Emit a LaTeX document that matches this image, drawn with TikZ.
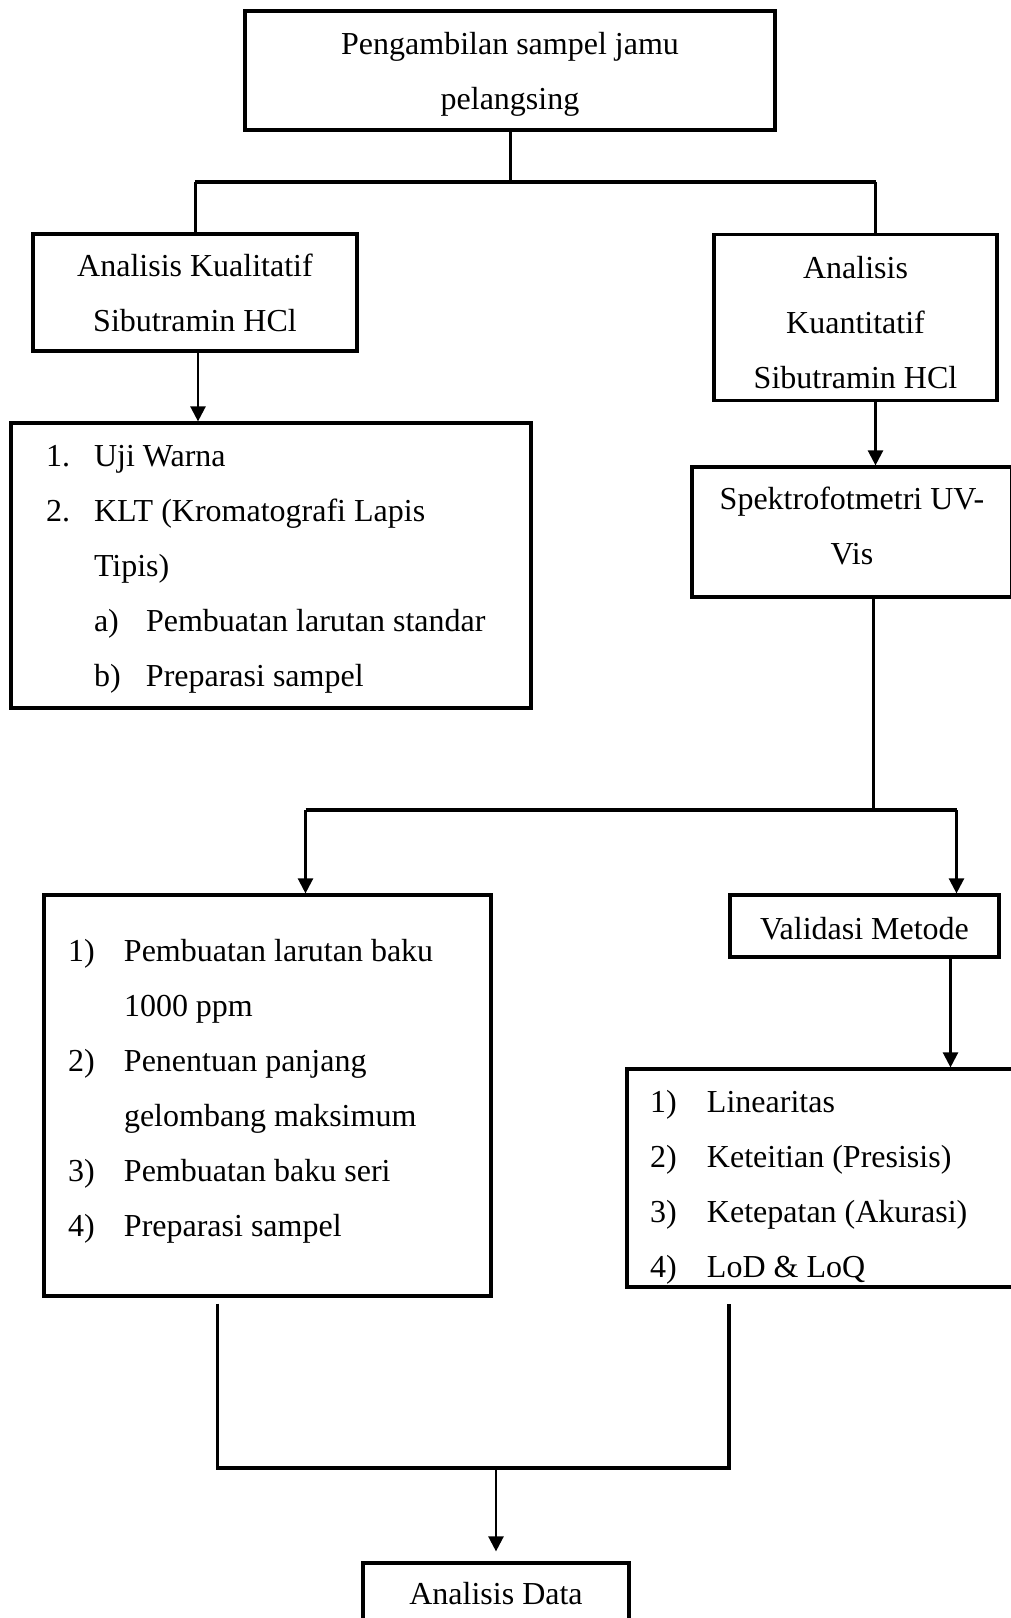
\documentclass[tikz,border=0pt]{standalone}
\usepackage{fontspec}
\setmainfont{Liberation Serif}
\usepackage{tikz}
\usetikzlibrary{positioning,arrows.meta}
\setlength{\parindent}{0pt}
\newcommand{\padtop}[2]{\raisebox{0pt}[\dimexpr\height+#1\relax]{#2}}
\newcommand{\padbot}[2]{\raisebox{0pt}[\height][\dimexpr\depth+#1\relax]{#2}}

\begin{document}
\begin{tikzpicture}[x=1pt, y=-1pt, >={Triangle[length=15pt,width=15pt]},
  box/.style={draw, line width=3.2pt, inner sep=0pt, align=center,
    font=\fontsize{32}{55}\selectfont},
  listbox/.style={box, align=left,
    execute at begin node={\spaceskip=0pt\xspaceskip=0pt}},
  link/.style={line width=3pt},
  bus/.style={line width=3.6pt},
  arrow/.style={->, line width=2.4pt}]
  \useasboundingbox (0,0) rectangle (1011,1618);
  \fill[white] (0,0) rectangle (1011,1618);
  \clip (0,0) rectangle (1011,1618);
  % boxes
  \node[box, minimum width=530, minimum height=119] (top) at (510,70.5)
    {\padtop{8pt}{Pengambilan} sampel jamu\\pelangsing};
  \node[box, minimum width=324, minimum height=117] (kual) at (195,292.5)
    {Analisis Kualitatif\\Sibutramin HCl};
  \node[box, minimum width=283, minimum height=166] (kuan) at (855.5,317.5)
    {\padtop{10pt}{Analisis}\\Kuantitatif\\Sibutramin HCl};
  \node[listbox, text width=450, minimum width=520, minimum height=285] (klt) at (271,565.5)
    {\makebox[48pt][l]{\padtop{8pt}{1.}}Uji Warna\\
     \makebox[48pt][l]{2.}KLT (Kromatografi Lapis\\
     \hspace*{48pt}Tipis)\\
     \hspace*{48pt}\makebox[52pt][l]{a)}Pembuatan larutan standar\\
     \hspace*{48pt}\makebox[52pt][l]{b)}Preparasi sampel};
  \node[box, minimum width=320, minimum height=130] (spek) at (852,532)
    {Spektrofotmetri UV-\\\padbot{12pt}{Vis}};
  \node[box, minimum width=269, minimum height=62] (val) at (864.5,926)
    {\padtop{6pt}{Validasi} Metode};
  \node[listbox, text width=399, minimum width=447, minimum height=401] (metode) at (267.5,1095.5)
    {\makebox[56pt][l]{1)}Pembuatan larutan baku\\
     \hspace*{56pt}1000 ppm\\
     \makebox[56pt][l]{2)}Penentuan panjang\\
     \hspace*{56pt}gelombang maksimum\\
     \makebox[56pt][l]{3)}Pembuatan baku seri\\
     \makebox[56pt][l]{\padbot{8pt}{4)}}Preparasi sampel};
  \node[listbox, text width=354, minimum width=400, minimum height=218] (uji) at (827,1178)
    {\makebox[57pt][l]{\padtop{18pt}{1)}}Linearitas\\
     \makebox[57pt][l]{2)}Keteitian (Presisis)\\
     \makebox[57pt][l]{3)}Ketepatan (Akurasi)\\
     \makebox[57pt][l]{4)}LoD \& LoQ};
  \node[box, minimum width=266, minimum height=62] (data) at (496,1594)
    {Analisis Data};
  % connector rows
  \coordinate (r1) at (0,182);
  \coordinate (r2) at (0,810);
  \coordinate (r3) at (0,1468);
  \coordinate (kR) at ([xshift=20pt]kuan.north);
  \coordinate (mL) at ([xshift=-50pt,yshift=-6pt]metode.south);
  \coordinate (mR) at ([xshift=-98pt,yshift=-15pt]uji.south);
  % connectors
  \draw[link] (top.south) -- (top.south |- r1);
  \draw[bus] (kual.north |- r1) -- (kR |- r1);
  \draw[link] (kual.north |- r1) -- (kual.north);
  \draw[link] (kR |- r1) -- (kR);
  \draw[arrow] ([xshift=3pt]kual.south) -- ([xshift=3pt]kual.south |- klt.north);
  \draw[arrow] ([xshift=20pt]kuan.south) -- ([xshift=20pt]kuan.south |- spek.north);
  \draw[link] ([xshift=21pt]spek.south) -- ([xshift=21pt]spek.south |- r2);
  \draw[bus] ([xshift=38pt]metode.north |- r2) -- ([xshift=92pt]val.north |- r2);
  \draw[arrow] ([xshift=38pt]metode.north |- r2) -- ([xshift=38pt]metode.north);
  \draw[arrow] ([xshift=92pt]val.north |- r2) -- ([xshift=92pt]val.north);
  \draw[arrow] ([xshift=86pt]val.south) -- ([xshift=86pt]val.south |- uji.north);
  \draw[bus] (mL) -- (mL |- r3) -- (mR |- r3) -- (mR);
  \draw[arrow] (data.north |- r3) -- ([yshift=10pt]data.north);
\end{tikzpicture}
\end{document}
